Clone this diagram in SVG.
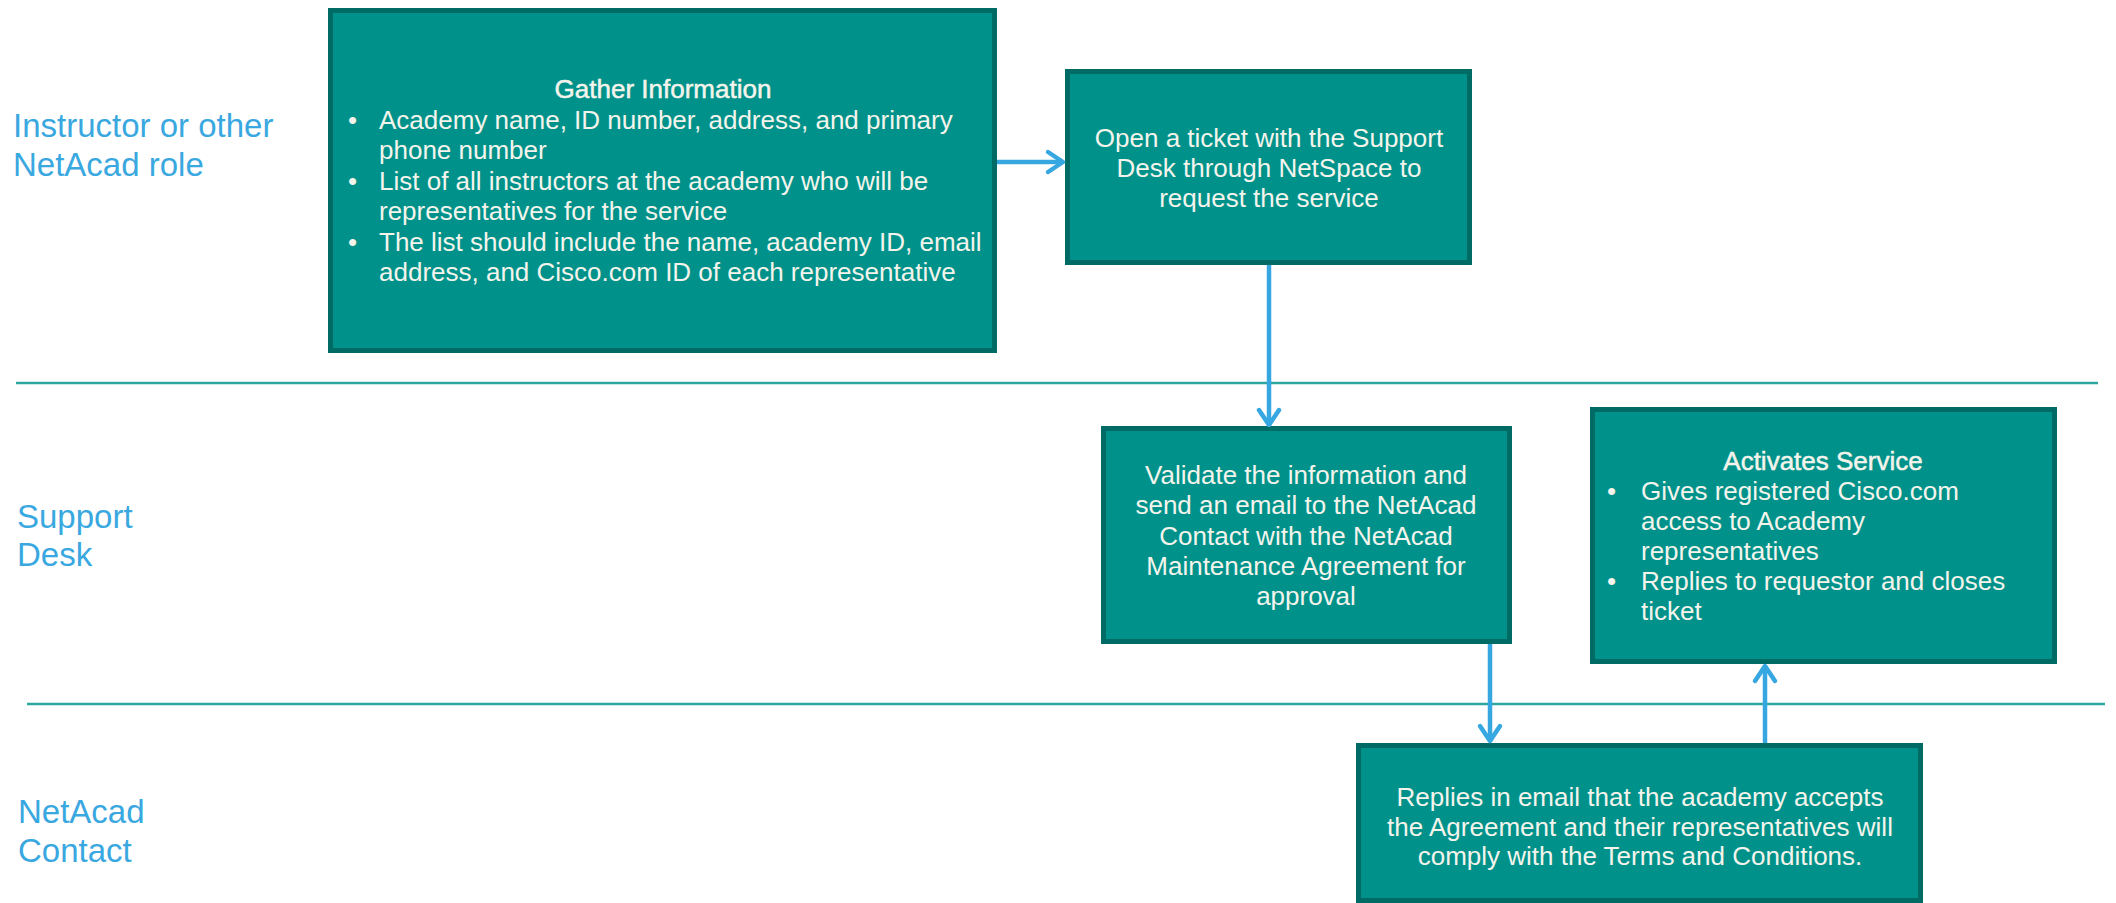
<svg xmlns="http://www.w3.org/2000/svg" width="2116" height="903" viewBox="0 0 2116 903">
<style>
.box{fill:#00928a;stroke:#006b65;stroke-width:5}
.t{font-family:"Liberation Sans",Arial,sans-serif;font-size:26px;fill:#f4f4ec}
.c{text-anchor:middle}
.h{stroke:#f4f4ec;stroke-width:0.5}
.lane{font-family:"Liberation Sans",Arial,sans-serif;font-size:33px;fill:#3aa8e0}
.sep{stroke:#2ea6a0;stroke-width:2.5}
.arr{stroke:#36a7e1;stroke-width:4.5;fill:none}
</style>
<defs>
<marker id="ah" markerUnits="userSpaceOnUse" markerWidth="24" markerHeight="26" refX="18" refY="12" orient="auto" overflow="visible">
<path d="M 3 2 L 18 12 L 3 22" fill="none" stroke="#36a7e1" stroke-width="4.5" stroke-linejoin="round" stroke-linecap="round"/>
</marker>
</defs>
<rect width="2116" height="903" fill="#ffffff"/>
<g id="lanes">
<line class="sep" x1="16" y1="383" x2="2098" y2="383"/>
<line class="sep" x1="27" y1="704" x2="2105" y2="704"/>
<text class="lane" x="13" y="137">Instructor or other</text>
<text class="lane" x="13" y="176">NetAcad role</text>
<text class="lane" x="17" y="528">Support</text>
<text class="lane" x="17" y="566">Desk</text>
<text class="lane" x="18" y="823">NetAcad</text>
<text class="lane" x="18" y="862">Contact</text>
</g>
<g id="gather">
<rect class="box" x="330.5" y="10.5" width="664" height="340"/>
<text class="t c h" x="663" y="98">Gather Information</text>
<text class="t" x="348" y="128.5">•</text>
<text class="t" x="379" y="128.5">Academy name, ID number, address, and primary</text>
<text class="t" x="379" y="159">phone number</text>
<text class="t" x="348" y="189.5">•</text>
<text class="t" x="379" y="189.5">List of all instructors at the academy who will be</text>
<text class="t" x="379" y="220">representatives for the service</text>
<text class="t" x="348" y="250.5">•</text>
<text class="t" x="379" y="250.5">The list should include the name, academy ID, email</text>
<text class="t" x="379" y="281">address, and Cisco.com ID of each representative</text>
</g>
<g id="ticket">
<rect class="box" x="1067.5" y="71.5" width="402" height="191"/>
<text class="t c" x="1269" y="147">Open a ticket with the Support</text>
<text class="t c" x="1269" y="177">Desk through NetSpace to</text>
<text class="t c" x="1269" y="207">request the service</text>
</g>
<g id="validate">
<rect class="box" x="1103.5" y="428.5" width="406" height="213"/>
<text class="t c" x="1306" y="484">Validate the information and</text>
<text class="t c" x="1306" y="514">send an email to the NetAcad</text>
<text class="t c" x="1306" y="545">Contact with the NetAcad</text>
<text class="t c" x="1306" y="575">Maintenance Agreement for</text>
<text class="t c" x="1306" y="605">approval</text>
</g>
<g id="activate">
<rect class="box" x="1592.5" y="409.5" width="462" height="252"/>
<text class="t c h" x="1823" y="470">Activates Service</text>
<text class="t" x="1607" y="500">•</text>
<text class="t" x="1641" y="500">Gives registered Cisco.com</text>
<text class="t" x="1641" y="530">access to Academy</text>
<text class="t" x="1641" y="560">representatives</text>
<text class="t" x="1607" y="590">•</text>
<text class="t" x="1641" y="590">Replies to requestor and closes</text>
<text class="t" x="1641" y="620">ticket</text>
</g>
<g id="replies">
<rect class="box" x="1358.5" y="745.5" width="562" height="155"/>
<text class="t c" x="1640" y="806">Replies in email that the academy accepts</text>
<text class="t c" x="1640" y="836">the Agreement and their representatives will</text>
<text class="t c" x="1640" y="865">comply with the Terms and Conditions.</text>
</g>
<g id="connectors">
<line class="arr" x1="997" y1="162" x2="1063" y2="162" marker-end="url(#ah)"/>
<line class="arr" x1="1269" y1="265" x2="1269" y2="425" marker-end="url(#ah)"/>
<line class="arr" x1="1490" y1="644" x2="1490" y2="741" marker-end="url(#ah)"/>
<line class="arr" x1="1765" y1="743" x2="1765" y2="666" marker-end="url(#ah)"/>
</g>
</svg>
